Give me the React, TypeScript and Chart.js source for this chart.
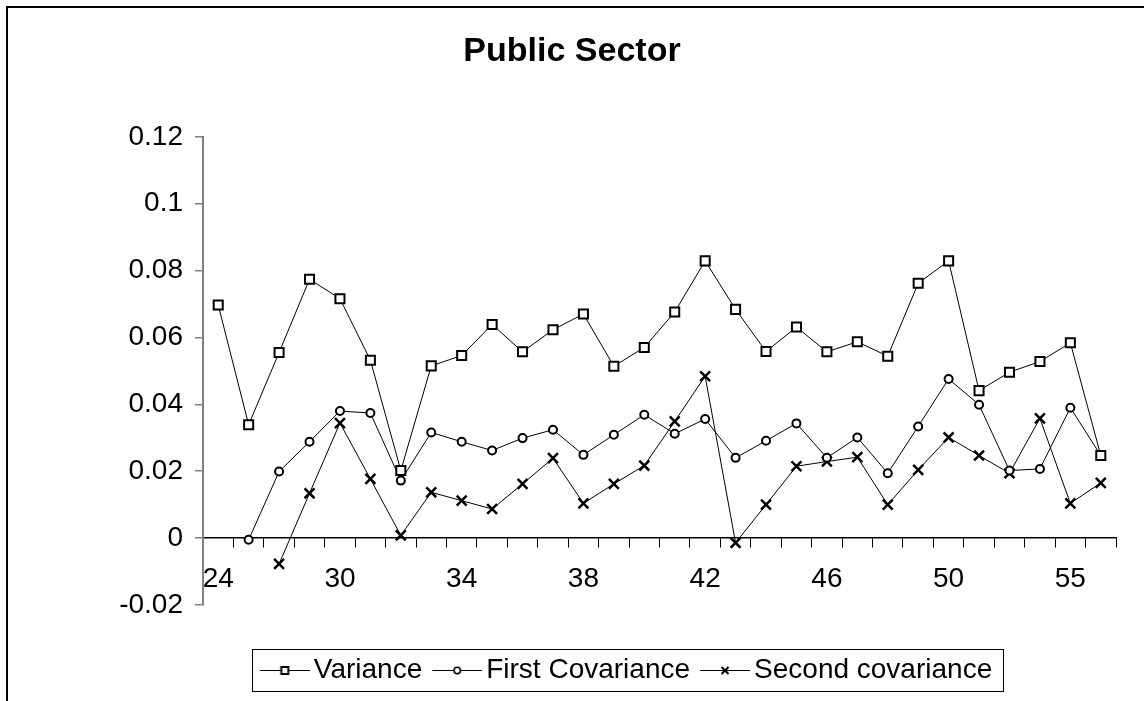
import React, { useEffect, useRef } from 'react';
import { Chart, registerables } from 'chart.js';

Chart.register(...registerables);

// ---- Data ----
const categories = ['24', '', '', '', '30', '', '', '', '34', '', '', '', '38', '', '', '', '42', '', '', '', '46', '', '', '', '50', '', '', '', '55', ''];

const variance = [0.0697, 0.0339, 0.0555, 0.0774, 0.0716, 0.0532, 0.0202, 0.0515, 0.0546, 0.0639, 0.0557, 0.0623, 0.0670, 0.0514, 0.0570, 0.0676, 0.0829, 0.0684, 0.0558, 0.0631, 0.0557, 0.0587, 0.0544, 0.0762, 0.0829, 0.0441, 0.0496, 0.0528, 0.0584, 0.0247];

const firstCovariance = [null, -0.0005, 0.0199, 0.0288, 0.0380, 0.0374, 0.0172, 0.0316, 0.0288, 0.0262, 0.0299, 0.0324, 0.0249, 0.0309, 0.0369, 0.0312, 0.0356, 0.0240, 0.0291, 0.0343, 0.0240, 0.0301, 0.0194, 0.0334, 0.0476, 0.0399, 0.0202, 0.0207, 0.0390, 0.0247];

const secondCovariance = [null, null, -0.0077, 0.0134, 0.0344, 0.0177, 0.0008, 0.0137, 0.0112, 0.0087, 0.0162, 0.0239, 0.0104, 0.0162, 0.0217, 0.0349, 0.0484, -0.0014, 0.0100, 0.0215, 0.0229, 0.0242, 0.0100, 0.0204, 0.0301, 0.0247, 0.0194, 0.0358, 0.0104, 0.0165];

const seriesNames = ['Variance', 'First Covariance', 'Second covariance'];
const yMin = -0.02;
const yMax = 0.12;
const yStep = 0.02;
const chartTitle = 'Public Sector';

// ---- Layout constants ----
const W = 1144;
const H = 701;
const LEGEND_CX = 626;
const TITLE_CX = 572;

function makeLegendSymbol(kind: string): HTMLCanvasElement {
  const c = document.createElement('canvas');
  c.width = 60;
  c.height = 14;
  const ctx = c.getContext('2d') as CanvasRenderingContext2D;
  ctx.strokeStyle = '#000';
  ctx.lineWidth = 1;
  ctx.beginPath();
  ctx.moveTo(10, 7.5);
  ctx.lineTo(60, 7.5);
  ctx.stroke();
  const cx = 35;
  const cy = 7.5;
  if (kind === 'rect') {
    ctx.fillStyle = '#fff';
    ctx.fillRect(cx - 4, cy - 4, 8, 8);
    ctx.lineWidth = 2;
    ctx.strokeRect(cx - 3.5, cy - 3.5, 7, 7);
  } else if (kind === 'circle') {
    ctx.fillStyle = '#fff';
    ctx.lineWidth = 1.6;
    ctx.beginPath();
    ctx.arc(cx, cy, 3.2, 0, Math.PI * 2);
    ctx.fill();
    ctx.stroke();
  } else {
    ctx.lineWidth = 2;
    ctx.beginPath();
    ctx.moveTo(cx - 3.5, cy - 3.5);
    ctx.lineTo(cx + 3.5, cy + 3.5);
    ctx.moveTo(cx + 3.5, cy - 3.5);
    ctx.lineTo(cx - 3.5, cy + 3.5);
    ctx.stroke();
  }
  return c;
}

export default function App() {
  const canvasRef = useRef<HTMLCanvasElement | null>(null);

  useEffect(() => {
    const canvas = canvasRef.current;
    if (!canvas) return;
    Chart.defaults.font.family = "'Liberation Sans', Arial, Helvetica, sans-serif";
    Chart.defaults.color = '#000';

    const symbols = [makeLegendSymbol('rect'), makeLegendSymbol('circle'), makeLegendSymbol('cross')];

    const tweaks = {
      id: 'tweaks',
      afterLayout(chart: any) {
        const lg = chart.legend;
        if (lg) {
          const w = lg.right - lg.left;
          lg.left = LEGEND_CX - w / 2;
          lg.right = LEGEND_CX + w / 2;
        }
        const tb = chart.titleBlock;
        if (tb) {
          const w = tb.right - tb.left;
          tb.left = TITLE_CX - w / 2;
          tb.right = TITLE_CX + w / 2;
        }
      },
      afterDraw(chart: any) {
        const lg = chart.legend;
        if (!lg || !lg.legendHitBoxes || !lg.legendHitBoxes.length) return;
        const hb = lg.legendHitBoxes;
        const first = hb[0];
        const last = hb[hb.length - 1];
        const ctx = chart.ctx;
        const left = Math.round(first.left - 8) + 0.5;
        const right = Math.round(last.left + last.width + 11) + 0.5;
        const top = Math.round(first.top - 7) + 0.5;
        const bottom = Math.round(first.top + first.height + 7) + 0.5;
        ctx.save();
        ctx.strokeStyle = '#000';
        ctx.lineWidth = 1;
        ctx.strokeRect(left, top, right - left, bottom - top);
        ctx.restore();
      },
    };

    const chart = new Chart(canvas, {
      type: 'line',
      data: {
        labels: categories,
        datasets: [
          {
            label: seriesNames[0],
            data: variance,
            borderColor: '#000',
            borderWidth: 1,
            pointStyle: 'rect',
            pointRadius: 6.4,
            pointBorderWidth: 2,
            pointBackgroundColor: '#fff',
            pointBorderColor: '#000',
            tension: 0,
          },
          {
            label: seriesNames[1],
            data: firstCovariance,
            borderColor: '#000',
            borderWidth: 1,
            pointStyle: 'circle',
            pointRadius: 4,
            pointBorderWidth: 2,
            pointBackgroundColor: '#fff',
            pointBorderColor: '#000',
            tension: 0,
          },
          {
            label: seriesNames[2],
            data: secondCovariance,
            borderColor: '#000',
            borderWidth: 1,
            pointStyle: 'crossRot',
            pointRadius: 7,
            pointBorderWidth: 2.5,
            pointBackgroundColor: '#000',
            pointBorderColor: '#000',
            tension: 0,
          },
        ],
      },
      options: {
        responsive: false,
        animation: false,
        devicePixelRatio: 1,
        layout: { padding: { left: 0, right: 28, top: 0, bottom: 7 } },
        scales: {
          x: {
            type: 'category',
            position: { y: 0 } as any,
            offset: true,
            grid: {
              offset: true,
              drawOnChartArea: false,
              drawTicks: true,
              tickLength: 9,
              color: '#000',
              lineWidth: 1,
            },
            border: { display: true, color: '#000', width: 1.5 },
            ticks: {
              autoSkip: false,
              maxRotation: 0,
              minRotation: 0,
              padding: 15,
              color: '#000',
              font: { size: 28 },
            },
          },
          y: {
            type: 'linear',
            min: yMin,
            max: yMax,
            afterFit: (scale: any) => {
              scale.width = 203;
            },
            grid: {
              drawOnChartArea: false,
              drawTicks: true,
              tickLength: 8,
              color: '#808080',
              lineWidth: 1.5,
            },
            border: { display: true, color: '#808080', width: 2 },
            ticks: {
              stepSize: yStep,
              padding: 12,
              color: '#000',
              font: { size: 28 },
              callback: (v: any) => String(Number(Number(v).toFixed(4))),
            },
          },
        },
        plugins: {
          title: {
            display: true,
            text: chartTitle,
            color: '#000',
            font: { size: 34, weight: 'bold' },
            padding: { top: 31, bottom: 65 },
          },
          legend: {
            display: true,
            position: 'bottom',
            title: { display: true, text: ' ', font: { size: 10 }, padding: { top: 29, bottom: 0 } },
            labels: {
              usePointStyle: true,
              pointStyleWidth: 40,
              padding: 10,
              color: '#000',
              font: { size: 28 },
              generateLabels: (ch: any) => {
                const items = Chart.defaults.plugins.legend.labels.generateLabels(ch);
                return items.map((it: any, i: number) => ({ ...it, pointStyle: symbols[i], fontColor: '#000' }));
              },
            },
          },
          tooltip: { enabled: false },
        },
      },
      plugins: [tweaks],
    });

    return () => chart.destroy();
  }, []);

  return (
    <>
      <div
        style={{
          position: 'fixed',
          left: 6,
          top: 6,
          width: W + 40,
          height: H + 40,
          border: '2px solid #000',
          boxSizing: 'border-box',
        }}
      />
      <canvas
        ref={canvasRef}
        width={W}
        height={H}
        style={{ position: 'fixed', left: 0, top: 0, width: W, height: H }}
      />
    </>
  );
}
